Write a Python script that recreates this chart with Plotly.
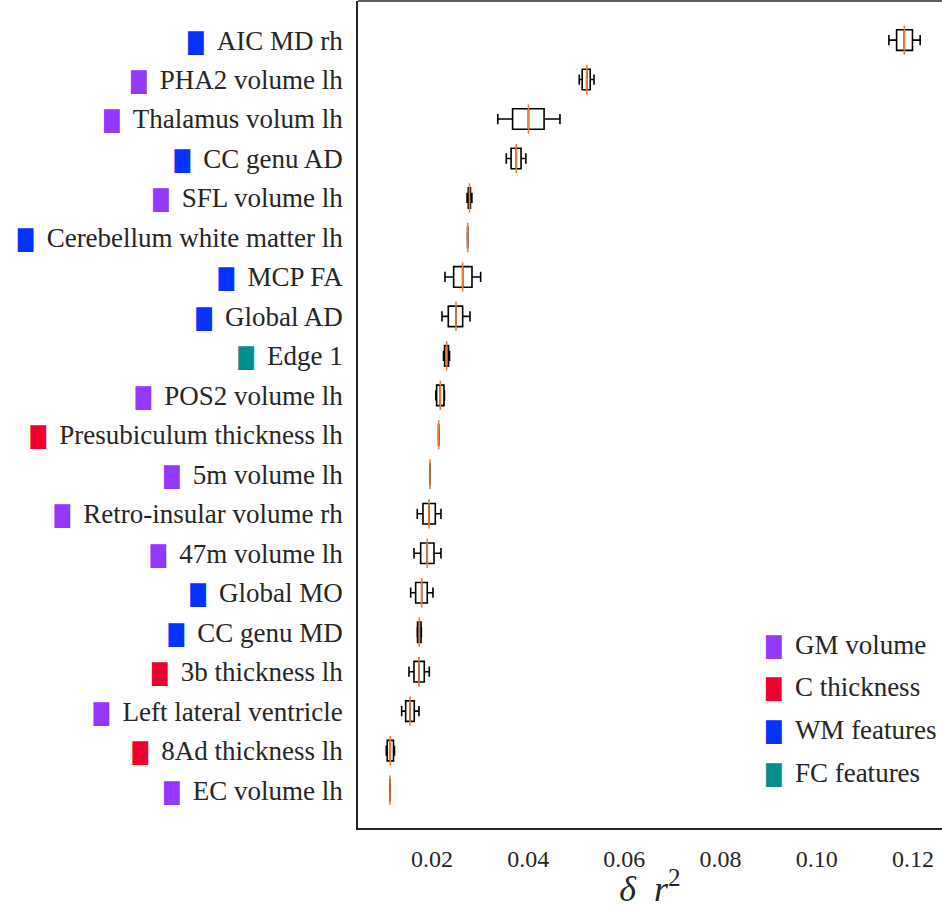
import plotly.graph_objects as go

# Feature names, top to bottom
features = [
    "AIC MD rh", "PHA2 volume lh", "Thalamus volum lh", "CC genu AD",
    "SFL volume lh", "Cerebellum white matter lh", "MCP FA", "Global AD",
    "Edge 1", "POS2 volume lh", "Presubiculum thickness lh", "5m volume lh",
    "Retro-insular volume rh", "47m volume lh", "Global MO", "CC genu MD",
    "3b thickness lh", "Left lateral ventricle", "8Ad thickness lh", "EC volume lh",
]
groups = [
    "WM", "GM", "GM", "WM", "GM", "WM", "WM", "WM", "FC", "GM",
    "C", "GM", "GM", "GM", "WM", "WM", "C", "GM", "C", "GM",
]

# Box statistics of delta r^2 per feature
lower = [0.1150, 0.05062, 0.03368, 0.03545, 0.02730, 0.02738, 0.02270, 0.02208, 0.02240, 0.02080,
         0.02135, 0.01954, 0.01694, 0.01626, 0.01557, 0.01694, 0.01522, 0.01370, 0.01050, 0.01124]
q1 = [0.1166, 0.05123, 0.03676, 0.03645, 0.02755, 0.02740, 0.02451, 0.02339, 0.02262, 0.02097,
      0.02137, 0.01956, 0.01813, 0.01765, 0.01661, 0.01700, 0.01626, 0.01453, 0.01070, 0.01126]
median = [0.1182, 0.05217, 0.04006, 0.03753, 0.02780, 0.02742, 0.02638, 0.02499, 0.02305, 0.02173,
          0.02139, 0.01958, 0.01938, 0.01902, 0.01786, 0.01736, 0.01730, 0.01543, 0.01133, 0.01127]
q3 = [0.1199, 0.05290, 0.04331, 0.03852, 0.02800, 0.02744, 0.02832, 0.02638, 0.02345, 0.02250,
      0.02141, 0.01960, 0.02069, 0.02042, 0.01902, 0.01772, 0.01840, 0.01632, 0.01200, 0.01128]
upper = [0.1215, 0.05369, 0.04661, 0.03952, 0.02830, 0.02746, 0.03012, 0.02790, 0.02365, 0.02260,
         0.02143, 0.01962, 0.02187, 0.02187, 0.02021, 0.01778, 0.01944, 0.01730, 0.01220, 0.01130]

x_ticks = [0.02, 0.04, 0.06, 0.08, 0.10, 0.12]

group_colors = {"GM": "#9437ff", "C": "#f0002f", "WM": "#0433ff", "FC": "#008f8c"}
legend_names = [("GM", "GM volume"), ("C", "C thickness"), ("WM", "WM features"), ("FC", "FC features")]

INK = "#262626"
SERIF = "Liberation Serif"
MEDIAN = "#e8803c"


def swatch(color):
    return ('<span style="color:%s;font-family:DejaVu Sans;font-size:20px">\u2588</span>\u2002' % color)


fig = go.Figure()

fig.add_trace(go.Box(
    y=features, q1=q1, median=median, q3=q3,
    lowerfence=lower, upperfence=upper,
    orientation="h", boxpoints=False,
    fillcolor="white", line=dict(color="black", width=1.6),
    whiskerwidth=0.5, width=0.52, hoverinfo="skip", showlegend=False,
))

# Median lines drawn on top in orange
fig.add_trace(go.Scatter(
    x=median, y=features, mode="markers",
    marker=dict(symbol="line-ns", size=21, line=dict(color=MEDIAN, width=1.6)),
    hoverinfo="skip", showlegend=False,
))

ticktext = [swatch(group_colors[g]) + f for f, g in zip(features, groups)]

fig.update_yaxes(
    type="category", categoryorder="array", categoryarray=features,
    range=[19.96, -0.99], tickvals=features, ticktext=ticktext,
    showgrid=False, zeroline=False, showline=True, linecolor=INK, linewidth=1.6,
    ticks="", ticklabelstandoff=8,
    tickfont=dict(family=SERIF, size=27, color=INK),
)
fig.update_xaxes(
    range=[0.00462, 0.12604], tickvals=x_ticks, ticktext=["%.2f" % t for t in x_ticks],
    showgrid=False, zeroline=False, showline=True, linecolor=INK, linewidth=1.6,
    ticks="", ticklabelstandoff=8,
    tickfont=dict(family=SERIF, size=24, color=INK),
    title=dict(text="<i>\u03b4  r</i><sup>2</sup>", font=dict(family=SERIF, size=36, color=INK), standoff=2),
)

# Top frame line
fig.add_shape(type="line", xref="paper", yref="paper", x0=0, x1=1, y0=1, y1=1,
              line=dict(color=INK, width=1.6))

# Legend of feature groups
legend_y = [0.2213, 0.1705, 0.1185, 0.0665]
for (key, name), yy in zip(legend_names, legend_y):
    fig.add_annotation(
        xref="paper", yref="paper", x=0.694, y=yy, xanchor="left", yanchor="middle",
        text=swatch(group_colors[key]) + name, showarrow=False,
        font=dict(family=SERIF, size=27, color=INK),
    )

fig.update_layout(
    width=942, height=909,
    margin=dict(l=358, r=0, t=1, b=81),
    plot_bgcolor="white", paper_bgcolor="white",
    font=dict(family=SERIF, color=INK),
)

fig.write_html("out.html")
